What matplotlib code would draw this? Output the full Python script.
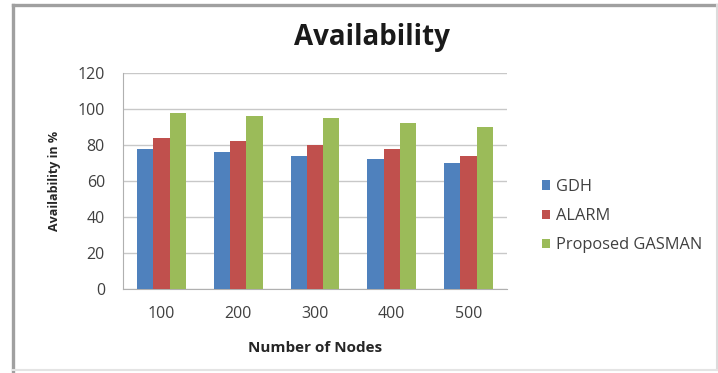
import matplotlib
matplotlib.use("Agg")
import matplotlib.pyplot as plt
import numpy as np

plt.rcParams['font.family'] = ['Open Sans', 'DejaVu Sans']

nodes = ["100", "200", "300", "400", "500"]
gdh = [78, 76, 74, 72, 70]
alarm = [84, 82, 80, 78, 74]
gasman = [98, 96, 95, 92, 90]
series_names = ["GDH", "ALARM", "Proposed GASMAN"]
colors = ["#4F81BD", "#C0504D", "#9BBB59"]

fig = plt.figure(figsize=(7.18, 3.73), dpi=100)
fig.patch.set_facecolor("white")

# outer chart frame: darker on the left and top edges, faint on right and bottom
frame = dict(transform=fig.transFigure, clip_on=False)
fig.lines.append(plt.Line2D([13 / 718, 13 / 718], [0, 368 / 373],
                            color="#a0a0a0", linewidth=2.4, **frame))
fig.lines.append(plt.Line2D([13 / 718, 717 / 718], [368 / 373, 368 / 373],
                            color="#a0a0a0", linewidth=2.4, **frame))
fig.lines.append(plt.Line2D([717 / 718, 717 / 718], [3 / 373, 368 / 373],
                            color="#dcdcdc", linewidth=1.5, **frame))
fig.lines.append(plt.Line2D([13 / 718, 717 / 718], [3 / 373, 3 / 373],
                            color="#e4e4e4", linewidth=1.5, **frame))

ax = fig.add_axes([123 / 718, 1 - 289 / 373, 384 / 718, 216 / 373])
x = np.arange(len(nodes))
w = 0.212
for i, (vals, name, c) in enumerate(zip([gdh, alarm, gasman], series_names, colors)):
    ax.bar(x + (i - 1) * w, vals, width=w, color=c, label=name, zorder=3)

ax.set_xlim(-0.5, len(nodes) - 0.5)
ax.set_ylim(0, 120)
ax.set_yticks(range(0, 121, 20))
ax.set_xticks(x)
ax.set_xticklabels(nodes)
ax.grid(axis="y", color="#c8c8c8", linewidth=1.0, zorder=0)
for s in ["top", "right"]:
    ax.spines[s].set_visible(False)
ax.spines["left"].set_color("#b0b0b0")
ax.spines["bottom"].set_color("#b0b0b0")
ax.tick_params(axis="both", length=0, labelsize=11.5, labelcolor="#404040")
ax.tick_params(axis="y", pad=13)
ax.tick_params(axis="x", pad=12)

ax.set_xlabel("Number of Nodes", fontsize=11, fontweight="bold", color="#262626", labelpad=14)
ax.set_ylabel("Availability in %", fontsize=9, fontweight="bold", color="#262626", labelpad=12)

fig.text(372 / 718, 1 - 38 / 373, "Availability", ha="center", va="center",
         fontsize=20, fontweight="bold", color="#1a1a1a")

fig.legend(loc="center left", bbox_to_anchor=(527 / 718, 1 - 216 / 373),
           frameon=False, fontsize=11.8, handlelength=0.5, handleheight=0.5,
           handletextpad=0.35, labelspacing=0.8, labelcolor="#404040")

fig.savefig("out.png", dpi=100)
